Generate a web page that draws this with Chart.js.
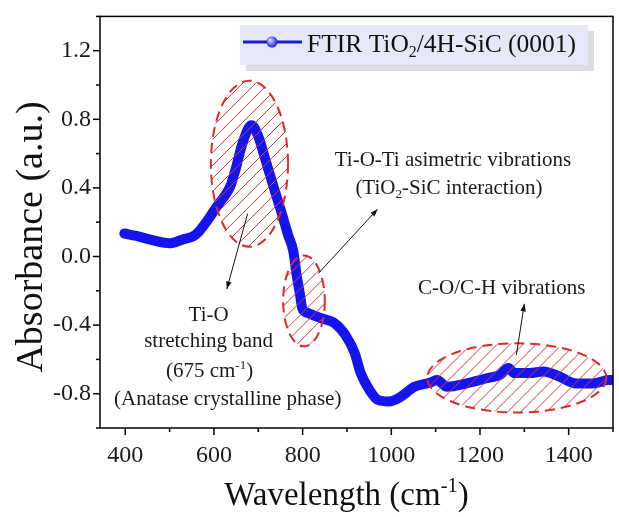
<!DOCTYPE html>
<html>
<head>
<meta charset="utf-8">
<script src="https://cdn.jsdelivr.net/npm/chart.js"></script>
<style>
  html, body { margin: 0; padding: 0; background: #fff; }
  #wrap { width: 619px; height: 517px; }
</style>
</head>
<body>
<div id="wrap"><canvas id="myChart" width="619" height="517"></canvas></div>
<script>
const wavenumber = [398, 425, 454, 499, 528, 559, 588, 606, 626, 637, 649, 662, 678, 685, 700, 716, 734, 752, 767, 779, 786, 794, 799, 812, 842, 873, 897, 917, 931, 951, 969, 995, 1020, 1052, 1088, 1103, 1126, 1170, 1215, 1245, 1264, 1278, 1312, 1343, 1379, 1417, 1455, 1491, 1500];
const absorbance = [0.134, 0.12, 0.10, 0.077, 0.098, 0.127, 0.22, 0.29, 0.36, 0.41, 0.51, 0.64, 0.75, 0.766, 0.70, 0.565, 0.41, 0.26, 0.127, 0.03, -0.10, -0.22, -0.30, -0.33, -0.36, -0.39, -0.46, -0.56, -0.68, -0.78, -0.835, -0.845, -0.82, -0.76, -0.735, -0.72, -0.76, -0.74, -0.71, -0.69, -0.65, -0.68, -0.68, -0.67, -0.70, -0.74, -0.74, -0.72, -0.72];

const xTickLabels = ['400', '600', '800', '1000', '1200', '1400'];
const yTickLabels = ['-0.8', '-0.4', '0.0', '0.4', '0.8', '1.2'];
const seriesName = [['FTIR TiO', ''], ['2', 'sub'], ['/4H-SiC (0001)', '']];
const xTitle = [['Wavelength (cm', ''], ['-1', 'sup'], [')', '']];
const yTitle = 'Absorbance (a.u.)';

// Regiões marcadas (centro e semi-eixos em unidades do gráfico)
const bandCenters = [[680, 0.541], [803, -0.259], [1283, -0.708]];
const bandRadii = [[87, 0.484], [47, 0.265], [202, 0.2015]];

// Setas: início -> fim
const arrowFrom = [[676, 0.25], [835, -0.10], [1282, -0.575]];
const arrowTo = [[629, -0.19], [969, 0.276], [1300, -0.276]];

// Textos das anotações
const noteTexts = [
  [['Ti-O', '']],
  [['stretching band', '']],
  [['(675 cm', ''], ['-1', 'sup'], [')', '']],
  [['(Anatase crystalline phase)', '']],
  [['Ti-O-Ti asimetric vibrations', '']],
  [['(TiO', ''], ['2', 'sub'], ['-SiC interaction)', '']],
  [['C-O/C-H vibrations', '']]
];
const notePos = [[588, -0.374], [588, -0.53], [590, -0.70], [631, -0.864], [1139, 0.53], [1130, 0.363], [1249, -0.219]];

const FONT = '"Liberation Serif", serif';
const BLUE = 'rgb(20, 20, 238)';

Chart.defaults.font.family = FONT;

// Util: texto com sub/sobrescrito
const drawRich = (ctx, parts, x, y, size, align) => {
  const items = parts.map(([t, mode]) => {
    const s = mode ? size * 0.62 : size;
    ctx.font = `${s}px ${FONT}`;
    return { t, mode, s, w: ctx.measureText(t).width };
  });
  const total = items.reduce((a, it) => a + it.w, 0);
  let cx = align === 'center' ? x - total / 2 : x;
  ctx.textAlign = 'left';
  ctx.textBaseline = 'alphabetic';
  items.forEach(it => {
    ctx.font = `${it.s}px ${FONT}`;
    const dy = it.mode === 'sup' ? -size * 0.38 : it.mode === 'sub' ? size * 0.2 : 0;
    ctx.fillText(it.t, cx, y + dy);
    cx += it.w;
  });
};

const drawArrow = (ctx, x1, y1, x2, y2) => {
  const a = Math.atan2(y2 - y1, x2 - x1);
  ctx.beginPath();
  ctx.moveTo(x1, y1);
  ctx.lineTo(x2, y2);
  ctx.stroke();
  ctx.beginPath();
  ctx.moveTo(x2, y2);
  ctx.lineTo(x2 - 8 * Math.cos(a - 0.35), y2 - 8 * Math.sin(a - 0.35));
  ctx.lineTo(x2 - 8 * Math.cos(a + 0.35), y2 - 8 * Math.sin(a + 0.35));
  ctx.closePath();
  ctx.fill();
};

const fmtY = v => {
  const s = (Math.round(v * 10) / 10).toFixed(1);
  return s === '-0.0' ? '0.0' : s;
};

const annotations = {
  id: 'annotations',
  afterDatasetsDraw(chart) {
    const { ctx, scales: { x, y } } = chart;

    // Elipses tracejadas com hachura
    bandCenters.forEach(([cxv, cyv], i) => {
      const cx = x.getPixelForValue(cxv);
      const cy = y.getPixelForValue(cyv);
      const rx = Math.abs(x.getPixelForValue(cxv + bandRadii[i][0]) - cx);
      const ry = Math.abs(y.getPixelForValue(cyv + bandRadii[i][1]) - cy);
      ctx.save();
      ctx.beginPath();
      ctx.ellipse(cx, cy, rx, ry, 0, 0, Math.PI * 2);
      ctx.clip();
      ctx.strokeStyle = 'rgb(205, 60, 60)';
      ctx.lineWidth = 1;
      const h = rx + ry;
      for (let k = -h * 2; k <= h * 2; k += 13) {
        ctx.beginPath();
        ctx.moveTo(cx + k - h, cy + h);
        ctx.lineTo(cx + k + h, cy - h);
        ctx.stroke();
      }
      ctx.restore();
      ctx.save();
      ctx.beginPath();
      ctx.ellipse(cx, cy, rx, ry, 0, 0, Math.PI * 2);
      ctx.setLineDash([10, 6]);
      ctx.strokeStyle = '#e02828';
      ctx.lineWidth = 2;
      ctx.stroke();
      ctx.restore();
    });

    // Setas
    ctx.save();
    ctx.strokeStyle = '#111';
    ctx.fillStyle = '#111';
    ctx.lineWidth = 1;
    arrowFrom.forEach(([x1, y1], i) => {
      drawArrow(ctx, x.getPixelForValue(x1), y.getPixelForValue(y1),
        x.getPixelForValue(arrowTo[i][0]), y.getPixelForValue(arrowTo[i][1]));
    });
    ctx.restore();

    // Textos
    ctx.save();
    ctx.fillStyle = '#1a1a1a';
    noteTexts.forEach((parts, i) => {
      drawRich(ctx, parts, x.getPixelForValue(notePos[i][0]), y.getPixelForValue(notePos[i][1]), 21, 'center');
    });
    ctx.restore();
  },
  afterDraw(chart) {
    const { ctx, chartArea: ca, scales: { x, y } } = chart;
    ctx.save();
    // Moldura
    ctx.strokeStyle = '#000';
    ctx.lineWidth = 1.5;
    ctx.strokeRect(ca.left, ca.top, ca.right - ca.left, ca.bottom - ca.top);
    // Marcas dos eixos
    x.ticks.forEach(t => {
      const px = x.getPixelForValue(t.value);
      const len = xTickLabels.includes(String(t.value)) ? 7 : 4;
      ctx.beginPath();
      ctx.moveTo(px, ca.bottom);
      ctx.lineTo(px, ca.bottom + len);
      ctx.stroke();
    });
    y.ticks.forEach(t => {
      const py = y.getPixelForValue(t.value);
      const len = yTickLabels.includes(fmtY(t.value)) ? 7 : 4;
      ctx.beginPath();
      ctx.moveTo(ca.left, py);
      ctx.lineTo(ca.left - len, py);
      ctx.stroke();
    });

    // Legenda
    const lx = 240, ly = 25, lw = 348, lh = 40;
    ctx.fillStyle = '#dcdcdf';
    ctx.fillRect(lx + 6, ly + 6, lw, lh);
    ctx.fillStyle = '#e7e8f7';
    ctx.fillRect(lx, ly, lw, lh);
    ctx.strokeStyle = '#1c1cc8';
    ctx.lineWidth = 3;
    ctx.beginPath();
    ctx.moveTo(lx + 3, ly + 17);
    ctx.lineTo(lx + 62, ly + 17);
    ctx.stroke();
    const g = ctx.createRadialGradient(lx + 30, ly + 15, 1, lx + 32, ly + 17, 6);
    g.addColorStop(0, '#c8d0ff');
    g.addColorStop(1, '#1010e0');
    ctx.fillStyle = g;
    ctx.beginPath();
    ctx.arc(lx + 32, ly + 17, 5.5, 0, Math.PI * 2);
    ctx.fill();
    ctx.fillStyle = '#111';
    drawRich(ctx, seriesName, lx + 67, ly + 27, 25.5, 'left');

    // Títulos dos eixos
    ctx.fillStyle = '#111';
    drawRich(ctx, xTitle, (ca.left + ca.right) / 2 - 10, 505, 33, 'center');
    ctx.translate(42, 237);
    ctx.rotate(-Math.PI / 2);
    ctx.font = `38px ${FONT}`;
    ctx.textAlign = 'center';
    ctx.textBaseline = 'alphabetic';
    ctx.fillText(yTitle, 0, 0);
    ctx.restore();
  }
};

const tickStyle = { family: FONT, size: 24 };

new Chart(document.querySelector('#myChart').getContext('2d'), {
  type: 'line',
  data: {
    datasets: [{
      label: 'FTIR TiO2/4H-SiC (0001)',
      data: wavenumber.map((w, i) => ({ x: w, y: absorbance[i] })),
      borderColor: BLUE,
      backgroundColor: BLUE,
      borderWidth: 10,
      borderCapStyle: 'round',
      borderJoinStyle: 'round',
      cubicInterpolationMode: 'monotone',
      pointRadius: 0,
    }]
  },
  options: {
    responsive: false,
    animation: false,
    devicePixelRatio: 1,
    layout: { padding: { top: 13, right: 3, left: 0, bottom: 0 } },
    plugins: { legend: { display: false }, tooltip: { enabled: false } },
    scales: {
      x: {
        type: 'linear',
        min: 343,
        max: 1500,
        afterBuildTicks: scale => {
          const ticks = [];
          for (let v = 400; v <= 1500; v += 100) ticks.push({ value: v });
          scale.ticks = ticks;
        },
        afterFit: scale => { scale.height = 89; },
        border: { display: false },
        grid: { drawOnChartArea: false, drawTicks: true, tickLength: 7, color: 'rgba(0,0,0,0)' },
        ticks: {
          autoSkip: false,
          maxRotation: 0,
          padding: 6,
          color: '#1a1a1a',
          font: tickStyle,
          callback: v => xTickLabels.includes(String(v)) ? String(v) : ''
        }
      },
      y: {
        min: -1.0,
        max: 1.4,
        afterBuildTicks: scale => {
          const ticks = [];
          for (let k = -5; k <= 7; k++) ticks.push({ value: k * 0.2 });
          scale.ticks = ticks;
        },
        afterFit: scale => { scale.width = 100; },
        border: { display: false },
        grid: { drawOnChartArea: false, drawTicks: true, tickLength: 7, color: 'rgba(0,0,0,0)' },
        ticks: {
          autoSkip: false,
          padding: 2,
          color: '#1a1a1a',
          font: tickStyle,
          callback: v => yTickLabels.includes(fmtY(v)) ? fmtY(v) : ''
        }
      }
    }
  },
  plugins: [annotations]
});
</script>
</body>
</html>
